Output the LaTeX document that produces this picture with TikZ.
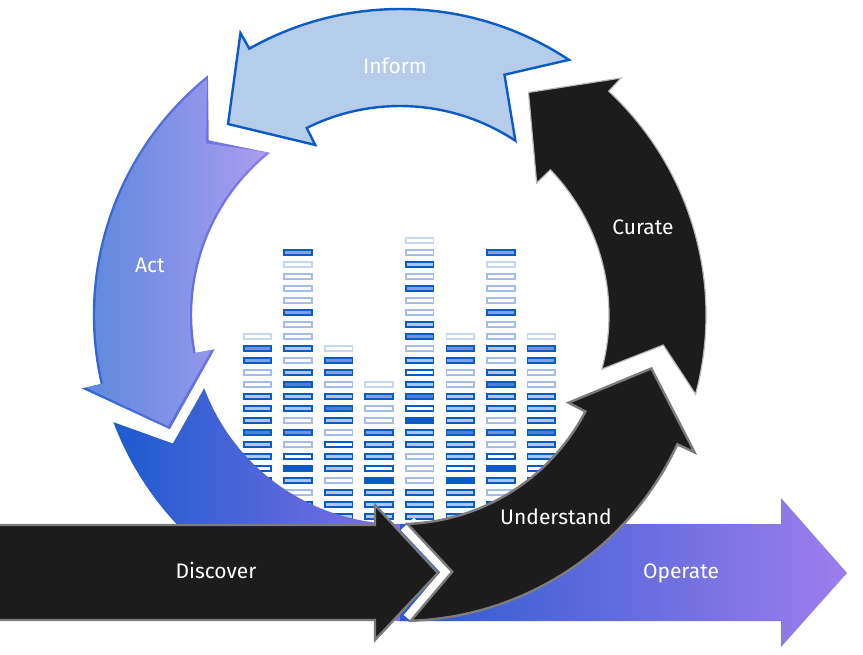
\documentclass[tikz,border=0pt]{standalone}
\usepackage{fontspec}
\setmainfont{Fira Sans}
\definecolor{cA}{HTML}{C6D7F3}
\definecolor{cWl}{HTML}{A2BDE9}
\definecolor{cB}{HTML}{0B5BC6}
\definecolor{cL}{HTML}{AEC7ED}
\definecolor{cMf}{HTML}{7FA3E3}
\definecolor{cMM}{HTML}{4D80D8}
\definecolor{cH}{HTML}{7394DA}
\definecolor{infF}{HTML}{B5CDEB}
\definecolor{blk}{HTML}{1C1C1C}
\definecolor{edgeG}{HTML}{7C7C7C}
\definecolor{edgeL}{HTML}{B8B8B8}
\definecolor{jL}{HTML}{1D5BCF}
\definecolor{jR}{HTML}{8070E4}
\definecolor{opL}{HTML}{2A5BD0}
\definecolor{opR}{HTML}{9E7DEC}
\definecolor{actL}{HTML}{5A88DC}
\definecolor{actR}{HTML}{AA9CF0}
\definecolor{actSL}{HTML}{2A62D2}
\definecolor{actSR}{HTML}{8C7AE9}
\tikzset{
  cellbase/.style={line width=1.8pt},
  cella/.style={cellbase, draw=cA, fill=white},
  cellw/.style={cellbase, draw=cWl, fill=white},
  cellW/.style={cellbase, draw=cB, fill=white},
  celll/.style={cellbase, draw=cB, fill=cL},
  cellm/.style={cellbase, draw=cB, fill=cMf},
  cellM/.style={cellbase, draw=cB, fill=cMM},
  cellh/.style={cellbase, draw=cB, fill=cH},
  cellS/.style={cellbase, draw=cB, fill=cB},
  lbl/.style={text=white, font=\fontsize{21}{25}\selectfont, anchor=base, inner sep=0pt},
  blackarrow/.style={fill=blk, draw=edgeG, line width=2.4pt, line join=miter, miter limit=4},
}
\newcommand\barcol[3]{\foreach \t [count=\k from #2] in {#3} {\draw[cell\t] ({#1-13.8},{240.3+12*\k-2.6}) rectangle ++(27.6,5.2);}}
\begin{document}
\begin{tikzpicture}[x=1pt,y=-1pt]
\useasboundingbox (0,0) rectangle (863,654);
% equalizer bars
\barcol{257.5}{8}{a,h,m,w,w,l,l,l,M,l,l,W,S,l,l,l}
\barcol{298.05}{1}{m,a,w,w,w,m,w,w,l,w,l,M,l,l,w,h,w,W,S,l,w,l,l}
\barcol{338.6}{9}{a,h,m,w,l,M,l,w,W,l,l,w,l,l,l}
\barcol{379.15}{12}{a,m,w,w,m,l,l,W,S,l,l,l}
\barcol{419.7}{0}{a,w,l,w,m,w,w,l,h,w,l,W,l,M,W,S,l,l,w,w,w,l,l,l}
\barcol{460.25}{8}{a,h,m,w,w,l,l,l,M,l,l,W,S,l,l,l}
\barcol{500.8}{1}{m,a,w,w,w,m,w,w,l,w,l,M,l,l,w,h,w,W,S,l,w,l,l}
\barcol{541.35}{8}{a,h,m,w,w,l,l,l,M,l,l,W,S,l,l,l}
% blue ring part of the Operate arrow
\begin{scope}[shift={(400,315)}, yscale=-1]
  \shade[left color=jL, right color=jR] (200.5:306) arc[start angle=200.5, end angle=271, radius=306] -- (271:209) arc[start angle=271, end angle=200.5, radius=209] -- (209.5:261) -- cycle;
\end{scope}
% Operate straight arrow
\shade[left color=opL, right color=opR] (400,524) -- (781,524) -- (781,498) -- (847,573) -- (781,647) -- (781,621) -- (400,621) -- cycle;
\begin{scope}[shift={(400,315)}, yscale=-1]
  % Act (stroke layer, then fill layer)
  \shade[left color=actSL, right color=actSR] (128.7:307.2) arc[start angle=128.7, end angle=193, radius=307.2] -- (193:326.5) -- (206.4:257) -- (190.5:188.5) -- (190.5:207.8) arc[start angle=190.5, end angle=128.7, radius=207.8] -- (137.6:259) -- cycle;
  \shade[left color=actL, right color=actR] (129.3:304.8) arc[start angle=129.3, end angle=193, radius=304.8] -- (193:322.5) -- (205.6:257) -- (190.5:192) -- (190.5:210.2) arc[start angle=190.5, end angle=129.3, radius=210.2] -- (138.5:259) -- cycle;
  % Inform
  \draw[fill=infF, draw=cB, line width=2.4pt, line join=miter, miter limit=4] (56.5:306) arc[start angle=56.5, end angle=119.5, radius=306] -- (119.5:324) -- (132:257) -- (116.5:190) -- (116.5:209) arc[start angle=116.5, end angle=56.5, radius=209] -- (66.5:262) -- cycle;
  % Curate
  \draw[fill=blk, draw=edgeL, line width=1.2pt, line join=miter, miter limit=4] (-15:306) arc[start angle=-15, end angle=47, radius=306] -- (47:324) -- (60:257) -- (44:190) -- (44:209) arc[start angle=44, end angle=-15, radius=209] -- (-6.5:265) -- cycle;
  % Understand (white gap at its tail, then the arrow)
  \draw[white, line width=18pt, line join=miter] (-88:209) -- (-78.5:262) -- (-88:306);
  \draw[blackarrow] (-88:306) arc[start angle=-88, end angle=-25, radius=306] -- (-25:325) -- (-12:257) -- (-27.5:190) -- (-27.5:209) arc[start angle=-27.5, end angle=-88, radius=209] -- (-78.5:262) -- cycle;
\end{scope}
% Discover
\draw[blackarrow] (-2,525) -- (375,525) -- (375,505) -- (438,573) -- (375,640) -- (375,620) -- (-2,620) -- cycle;
% labels
\node[lbl] (inform) at (395,73) {Inform};
\node[lbl] (act) at (150,272) {Act};
\node[lbl] (curate) at (643,234) {Curate};
\node[lbl] (understand) at (556,524) {Understand};
\node[lbl] (discover) at (216,578) {Discover};
\node[lbl] (operate) at (681,578) {Operate};
\end{tikzpicture}
\end{document}
